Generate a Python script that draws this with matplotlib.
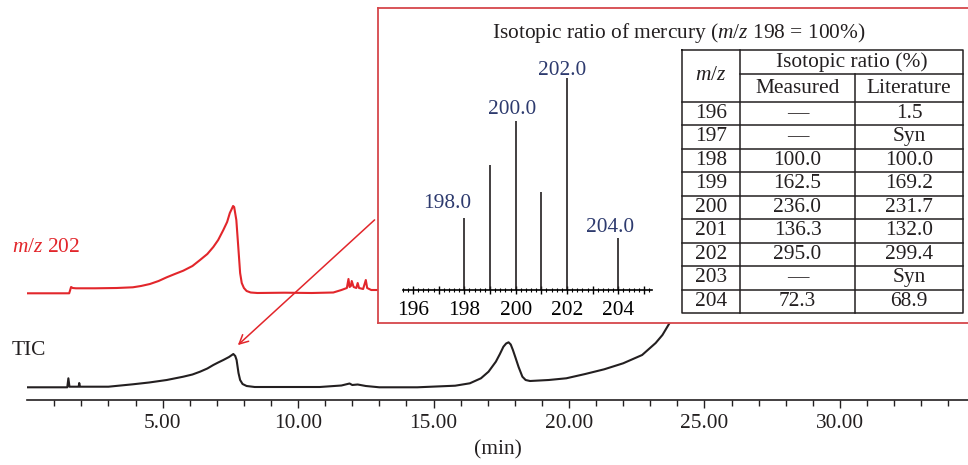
import matplotlib
matplotlib.use('Agg')
import matplotlib.pyplot as plt
from matplotlib.ticker import MultipleLocator, FixedLocator, FuncFormatter

plt.rcParams['font.family'] = 'Liberation Serif'
plt.rcParams['mathtext.fontset'] = 'custom'
plt.rcParams['mathtext.it'] = 'Liberation Serif:italic'
plt.rcParams['mathtext.rm'] = 'Liberation Serif'

# chromatogram traces (time in min, arbitrary intensity)
red_t = [0, 1.55, 1.62, 1.68, 1.8, 2.5, 3.3, 3.9, 4.2, 4.53, 4.85, 5.15, 5.45, 5.76, 6.1,
         6.38, 6.65, 6.87, 7.05, 7.24, 7.38, 7.48, 7.55, 7.6, 7.64, 7.72, 7.8, 7.86, 7.92,
         8.0, 8.1, 8.25, 8.5, 9.5, 10.5, 11.3, 11.6, 11.8, 11.86, 11.9, 11.95, 11.98, 12.05,
         12.15, 12.2, 12.25, 12.4, 12.5, 12.55, 12.7, 13.0, 13.3]
red_y = [106.7, 106.7, 113, 112, 111.7, 111.7, 112, 112.7, 114, 116, 119, 122.7, 126, 129.3, 134,
         140, 146, 153, 160, 170, 178, 187, 191, 194, 193, 180, 150, 127, 117,
         112, 109, 107.5, 107, 107.3, 107, 107.5, 110, 112, 121, 113, 114, 119, 113,
         112, 117, 112, 111, 120, 112, 110, 110, 110]

tic_t = [0, 1.48, 1.52, 1.56, 1.9, 1.92, 1.95, 3.0, 3.9, 4.5, 5.15, 5.76, 6.1, 6.38, 6.65,
         6.87, 7.05, 7.24, 7.45, 7.61, 7.68, 7.73, 7.8, 7.86, 7.95, 8.1, 8.4, 9.5, 10.8,
         11.6, 11.9, 12.0, 12.2, 12.5, 13.0, 14.4, 15.8, 16.34, 16.75, 17.03, 17.3, 17.45,
         17.58, 17.68, 17.77, 17.85, 17.93, 18.03, 18.14, 18.28, 18.4, 18.56, 19.25, 19.9,
         20.6, 21.3, 22.0, 22.7, 23.2, 23.45, 23.67, 24.2]
tic_y = [12.7, 12.7, 21.7, 13.3, 13.3, 17, 13.3, 13.3, 15.7, 17.5, 20, 23.3, 25.5, 28.3, 31.5,
         35, 37.5, 40, 43, 46, 44, 40, 27, 20, 16, 14, 13, 13, 13,
         14.5, 16.5, 15, 15.5, 14, 12.7, 12.7, 14.3, 16.7, 21.7, 28.3, 38.3, 46,
         53.3, 56.5, 57.7, 55.5, 50, 42, 33, 23.3, 20, 19, 20, 21.7,
         26, 30.7, 36.7, 45, 57, 65, 75, 100]

# isotope spectrum
mz = [198, 199, 200, 201, 202, 204]
intensity = [100, 175, 236, 136.3, 295, 73]
peak_labels = ['198.0', '200.0', '202.0', '204.0']
peak_label_mz = [198, 200, 202, 204]
label_dx = [-17.6, -3.7, -5, -8.7]  # px offsets of labels
label_dy = [15, 11, 8, 10]

# table
table_header = ['Isotopic ratio (%)', 'Measured', 'Literature']
table_mz = ['196', '197', '198', '199', '200', '201', '202', '203', '204']
table_measured = ['—', '—', '100.0', '162.5', '236.0', '136.3', '295.0', '—', '72.3']
table_literature = ['1.5', 'Syn', '100.0', '169.2', '231.7', '132.0', '299.4', 'Syn', '68.9']

W, H = 968, 465
RED = '#e2262b'
BOXRED = '#d6474b'
NAVY = '#2d3a6e'
INK = '#231f20'
FS = 15.4

fig = plt.figure(figsize=(W / 100, H / 100), dpi=100)

def fr(x0, y0, x1, y1):
    # pixel box (top-left origin) -> figure fraction rect
    return [x0 / W, 1 - y1 / H, (x1 - x0) / W, (y1 - y0) / H]

# main chromatogram axes
ax = fig.add_axes(fr(27.2, 0, 968, 400))
ax.plot(red_t, red_y, color=RED, lw=1.5)
ax.plot(tic_t, tic_y, color=INK, lw=1.5)
ax.set_xlim(0, 34.73)
ax.set_ylim(0, 400)
ax.patch.set_visible(False)
for s in ['top', 'left', 'right']:
    ax.spines[s].set_visible(False)
ax.spines['bottom'].set_linewidth(1.2)
ax.spines['bottom'].set_color(INK)
ax.set_yticks([])
ax.xaxis.set_major_locator(FixedLocator([5, 10, 15, 20, 25, 30]))
ax.xaxis.set_minor_locator(FixedLocator([i for i in range(1, 35) if i % 5]))
ax.xaxis.set_major_formatter(FuncFormatter(lambda v, p: '%.2f' % v))
ax.tick_params(axis='x', which='major', length=6, width=1, colors=INK,
               labelsize=FS, pad=4)
ax.tick_params(axis='x', which='minor', length=4, width=1, colors=INK)
ax.set_xlabel('(min)', fontsize=FS, color=INK, labelpad=5)

fig.text(12 / W, 1 - 247 / H, r'$m/z$ 202', color=RED, fontsize=FS, va='center', ha='left')
fig.text(12 / W, 1 - 350 / H, 'TIC', color=INK, fontsize=FS, va='center', ha='left')

ax.annotate('', xy=(7.7, 53), xytext=(12.9, 182),
            arrowprops=dict(arrowstyle='->', color=RED, lw=1.1, mutation_scale=16),
            annotation_clip=False)

# inset box
box = fig.add_axes(fr(378, 8, 1000, 323))
box.set_xticks([])
box.set_yticks([])
box.set_facecolor('white')
for s in box.spines.values():
    s.set_color(BOXRED)
    s.set_linewidth(1.3)

fig.text(492 / W, 1 - 33 / H, r'Isotopic ratio of mercury ($m/z$ 198 = 100%)',
         fontsize=FS, color=INK, va='center', ha='left')

# stem spectrum
sp = fig.add_axes(fr(402.7, 60, 651.7, 290))
sp.vlines(mz, 0, intensity, color=INK, lw=1.2)
sp.set_xlim(195.6, 205.3)
sp.set_ylim(0, 230 / 71.7 * 100)
sp.patch.set_visible(False)
for s in ['top', 'left', 'right']:
    sp.spines[s].set_visible(False)
sp.spines['bottom'].set_linewidth(1.2)
sp.set_yticks([])
sp.xaxis.set_major_locator(MultipleLocator(1))
sp.xaxis.set_minor_locator(MultipleLocator(0.2))
sp.xaxis.set_major_formatter(FuncFormatter(lambda v, p: '%d' % v if round(v) % 2 == 0 else ''))
sp.tick_params(axis='x', which='major', direction='inout', length=6, width=1, labelsize=FS, pad=5)
sp.tick_params(axis='x', which='minor', direction='inout', length=3, width=0.8)
for lab, m, dx, dy in zip(peak_labels, peak_label_mz, label_dx, label_dy):
    h = intensity[mz.index(m)]
    sp.annotate(lab, xy=(m, h), xytext=(dx * 0.72, dy * 0.72), textcoords='offset points',
                ha='center', va='center', fontsize=FS, color=NAVY, annotation_clip=False)

# table
tx0, ty0, tx1, ty1 = 681.7, 50, 963, 313
tb = fig.add_axes(fr(tx0, ty0, tx1, ty1))
tb.set_xlim(0, tx1 - tx0)
tb.set_ylim(ty1 - ty0, 0)
tb.axis('off')
cols = [0, 58.3, 173.3, 281.3]
rows = [0, 24.3, 51.7] + [51.7 + 23.5 * (i + 1) for i in range(len(table_mz))]
lk = dict(color=INK, lw=1.1, clip_on=False)
tb.plot([0, cols[3], cols[3], 0, 0], [0, 0, rows[-1], rows[-1], 0], **lk)
tb.plot([cols[1], cols[1]], [0, rows[-1]], **lk)
tb.plot([cols[2], cols[2]], [rows[1], rows[-1]], **lk)
tb.plot([cols[1], cols[3]], [rows[1], rows[1]], **lk)
for r in rows[2:-1]:
    tb.plot([0, cols[3]], [r, r], **lk)

def cell(txt, c0, c1, r0, r1):
    tb.text((cols[c0] + cols[c1]) / 2, (rows[r0] + rows[r1]) / 2, txt, ha='center',
            va='center', fontsize=FS, color=INK)

cell(r'$m/z$', 0, 1, 0, 2)
cell(table_header[0], 1, 3, 0, 1)
cell(table_header[1], 1, 2, 1, 2)
cell(table_header[2], 2, 3, 1, 2)
for i, (a, b, c) in enumerate(zip(table_mz, table_measured, table_literature)):
    cell(a, 0, 1, i + 2, i + 3)
    cell(b, 1, 2, i + 2, i + 3)
    cell(c, 2, 3, i + 2, i + 3)

fig.savefig('out.png', dpi=100)
